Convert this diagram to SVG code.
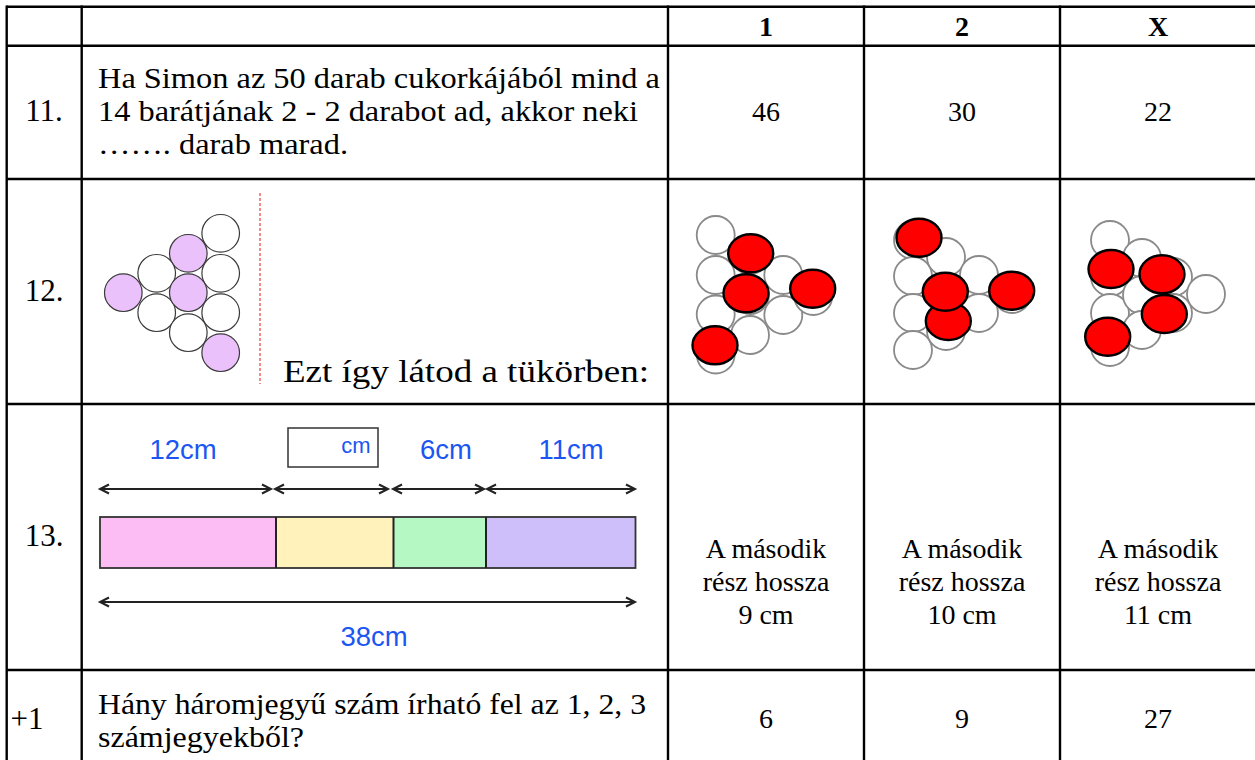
<svg xmlns="http://www.w3.org/2000/svg" width="1255" height="760" viewBox="0 0 1255 760">
<defs>
<style>
.grid{stroke:#000;stroke-width:2.4;fill:none}
.q{font-family:"Liberation Serif","Times New Roman",serif;font-size:29.5px;fill:#000}
.n{font-family:"Liberation Serif","Times New Roman",serif;font-size:31px;fill:#000;text-anchor:middle}
.a{font-family:"Liberation Serif","Times New Roman",serif;font-size:28px;fill:#000;text-anchor:middle}
.h{font-family:"Liberation Serif","Times New Roman",serif;font-size:28px;font-weight:bold;fill:#000;text-anchor:middle}
.cm{font-family:"Liberation Sans",Arial,sans-serif;font-size:27.5px;fill:#1b56f2;text-anchor:middle}
.pc{fill:#ebc1fb;stroke:#3a3a3a;stroke-width:1.2}
.wc{fill:#fff;stroke:#3a3a3a;stroke-width:1.2}
.oc{fill:#fff;stroke:#8a8a8a;stroke-width:1.8}
.rd{fill:#ff0000;stroke:#000;stroke-width:2.4}
.dim{stroke:#222;stroke-width:2;fill:none;marker-start:url(#chev);marker-end:url(#chev)}
.seg{stroke:#222;stroke-width:2}
</style>
<marker id="chev" markerUnits="userSpaceOnUse" markerWidth="14" markerHeight="12" refX="11" refY="6" orient="auto-start-reverse" viewBox="0 0 14 12">
<path d="M2,1.5 L11,6 L2,10.5" fill="none" stroke="#222" stroke-width="2"/>
</marker>
</defs>
<rect width="1255" height="760" fill="#fff"/>

<g id="grid">
<line class="grid" x1="6.7" y1="6.7" x2="1255" y2="6.7"/>
<line class="grid" x1="6.7" y1="45.7" x2="1255" y2="45.7"/>
<line class="grid" x1="6.7" y1="179" x2="1255" y2="179"/>
<line class="grid" x1="6.7" y1="404" x2="1255" y2="404"/>
<line class="grid" x1="6.7" y1="670" x2="1255" y2="670"/>
<line class="grid" x1="6.7" y1="5.5" x2="6.7" y2="760"/>
<line class="grid" x1="81.7" y1="5.5" x2="81.7" y2="760"/>
<line class="grid" x1="668" y1="5.5" x2="668" y2="760"/>
<line class="grid" x1="864" y1="5.5" x2="864" y2="760"/>
<line class="grid" x1="1060" y1="5.5" x2="1060" y2="760"/>
</g>

<g id="header">
<text class="h" x="766" y="36">1</text>
<text class="h" x="962" y="36">2</text>
<text class="h" x="1158" y="36">X</text>
</g>

<g id="row11">
<text class="n" x="44" y="121">11.</text>
<text class="q" x="98" y="88" textLength="562" lengthAdjust="spacingAndGlyphs">Ha Simon az 50 darab cukorkájából mind a</text>
<text class="q" x="98" y="121" textLength="540" lengthAdjust="spacingAndGlyphs">14 barátjának 2 - 2 darabot ad, akkor neki</text>
<text class="q" x="98" y="154" textLength="250" lengthAdjust="spacingAndGlyphs">……. darab marad.</text>
<text class="a" x="766" y="121">46</text>
<text class="a" x="962" y="121">30</text>
<text class="a" x="1158" y="121">22</text>
</g>

<g id="row12">
<text class="n" x="44" y="301">12.</text>
<g id="original">
<circle class="wc" cx="220.7" cy="233.3" r="18.8"/>
<circle class="pc" cx="188.3" cy="253.3" r="18.8"/>
<circle class="wc" cx="220.7" cy="273.3" r="18.8"/>
<circle class="wc" cx="156.7" cy="273.3" r="18.8"/>
<circle class="pc" cx="123.3" cy="292.7" r="18.8"/>
<circle class="wc" cx="220.7" cy="312.7" r="18.8"/>
<circle class="wc" cx="156.7" cy="312.7" r="18.8"/>
<circle class="pc" cx="188.3" cy="292.7" r="18.8"/>
<circle class="wc" cx="188.3" cy="332.7" r="18.8"/>
<circle class="pc" cx="220.7" cy="352.7" r="18.8"/>
</g>
<line x1="260" y1="193" x2="260" y2="384" stroke="#e8403a" stroke-width="1.2" stroke-dasharray="3,2"/>
<text class="q" x="283" y="382" style="font-size:32px" textLength="366" lengthAdjust="spacingAndGlyphs">Ezt így látod a tükörben:</text>
<g id="opt1">
<circle class="oc" cx="715.7" cy="235" r="19"/>
<circle class="oc" cx="715.7" cy="275" r="19"/>
<circle class="oc" cx="715.7" cy="314.5" r="19"/>
<circle class="oc" cx="715.7" cy="354.5" r="19"/>
<circle class="oc" cx="750" cy="255" r="19"/>
<circle class="oc" cx="750" cy="295" r="19"/>
<circle class="oc" cx="750" cy="335" r="19"/>
<circle class="oc" cx="783.3" cy="275" r="19"/>
<circle class="oc" cx="783.3" cy="315" r="19"/>
<circle class="oc" cx="813.3" cy="296" r="19"/>
<ellipse class="rd" cx="750.7" cy="253.3" rx="22.5" ry="19"/>
<ellipse class="rd" cx="746" cy="293.3" rx="22.5" ry="19"/>
<ellipse class="rd" cx="812.7" cy="288.7" rx="22.5" ry="19"/>
<ellipse class="rd" cx="715" cy="345.3" rx="22.5" ry="19"/>
</g>
<g id="opt2">
<circle class="oc" cx="913" cy="240" r="19"/>
<circle class="oc" cx="913" cy="276" r="19"/>
<circle class="oc" cx="913" cy="313" r="19"/>
<circle class="oc" cx="913" cy="350" r="19"/>
<circle class="oc" cx="946" cy="257" r="19"/>
<circle class="oc" cx="946" cy="296" r="19"/>
<circle class="oc" cx="946" cy="331" r="19"/>
<circle class="oc" cx="979" cy="275" r="19"/>
<circle class="oc" cx="979" cy="313" r="19"/>
<circle class="oc" cx="1012" cy="294" r="19"/>
<ellipse class="rd" cx="919" cy="237.7" rx="22.5" ry="19"/>
<ellipse class="rd" cx="948.3" cy="321" rx="22.5" ry="19"/>
<ellipse class="rd" cx="945.3" cy="291.7" rx="22.5" ry="19"/>
<ellipse class="rd" cx="1011.7" cy="290.7" rx="22.5" ry="19"/>
</g>
<g id="optX">
<circle class="oc" cx="1110" cy="240" r="19"/>
<circle class="oc" cx="1110" cy="277" r="19"/>
<circle class="oc" cx="1110" cy="313" r="19"/>
<circle class="oc" cx="1110" cy="347" r="19"/>
<circle class="oc" cx="1142" cy="258" r="19"/>
<circle class="oc" cx="1142" cy="295" r="19"/>
<circle class="oc" cx="1142" cy="330" r="19"/>
<circle class="oc" cx="1173" cy="277" r="19"/>
<circle class="oc" cx="1173" cy="313" r="19"/>
<circle class="oc" cx="1206" cy="294" r="19"/>
<ellipse class="rd" cx="1111" cy="269" rx="22.5" ry="19"/>
<ellipse class="rd" cx="1162" cy="274.3" rx="22.5" ry="19"/>
<ellipse class="rd" cx="1164.3" cy="314" rx="22.5" ry="19"/>
<ellipse class="rd" cx="1107.7" cy="336.7" rx="22.5" ry="19"/>
</g>
</g>

<g id="row13">
<text class="n" x="44" y="546">13.</text>
<text class="cm" x="183" y="459">12cm</text>
<rect x="288" y="428" width="90" height="39" fill="#fff" stroke="#333" stroke-width="1.5"/>
<text class="cm" x="356" y="453" style="font-size:22px">cm</text>
<text class="cm" x="446" y="459">6cm</text>
<text class="cm" x="571" y="459">11cm</text>
<g id="bar">
<rect x="100" y="517" width="176" height="51" fill="#fbbdf3"/>
<rect x="276" y="517" width="117.5" height="51" fill="#fff2bb"/>
<rect x="393.5" y="517" width="92.5" height="51" fill="#b5f8c4"/>
<rect x="486" y="517" width="149.5" height="51" fill="#cebefa"/>
<rect x="100" y="517" width="535.5" height="51" fill="none" stroke="#333" stroke-width="1.8"/>
<line class="seg" x1="276" y1="517" x2="276" y2="568"/>
<line class="seg" x1="393.5" y1="517" x2="393.5" y2="568"/>
<line class="seg" x1="486" y1="517" x2="486" y2="568"/>
</g>
<text class="cm" x="374" y="646">38cm</text>
<text class="a" x="766" y="558">A második</text>
<text class="a" x="766" y="591">rész hossza</text>
<text class="a" x="766" y="624">9 cm</text>
<text class="a" x="962" y="558">A második</text>
<text class="a" x="962" y="591">rész hossza</text>
<text class="a" x="962" y="624">10 cm</text>
<text class="a" x="1158" y="558">A második</text>
<text class="a" x="1158" y="591">rész hossza</text>
<text class="a" x="1158" y="624">11 cm</text>
</g>

<g id="connectors">
<line class="dim" x1="100" y1="489" x2="271" y2="489"/>
<line class="dim" x1="275" y1="489" x2="388" y2="489"/>
<line class="dim" x1="393" y1="489" x2="484" y2="489"/>
<line class="dim" x1="487" y1="489" x2="635" y2="489"/>
<line class="dim" x1="100" y1="602" x2="635" y2="602"/>
</g>

<g id="row14">
<text class="n" x="27" y="729">+1</text>
<text class="q" x="98" y="714" textLength="548" lengthAdjust="spacingAndGlyphs">Hány háromjegyű szám írható fel az 1, 2, 3</text>
<text class="q" x="98" y="747" textLength="206" lengthAdjust="spacingAndGlyphs">számjegyekből?</text>
<text class="a" x="766" y="728">6</text>
<text class="a" x="962" y="728">9</text>
<text class="a" x="1158" y="728">27</text>
</g>
</svg>
